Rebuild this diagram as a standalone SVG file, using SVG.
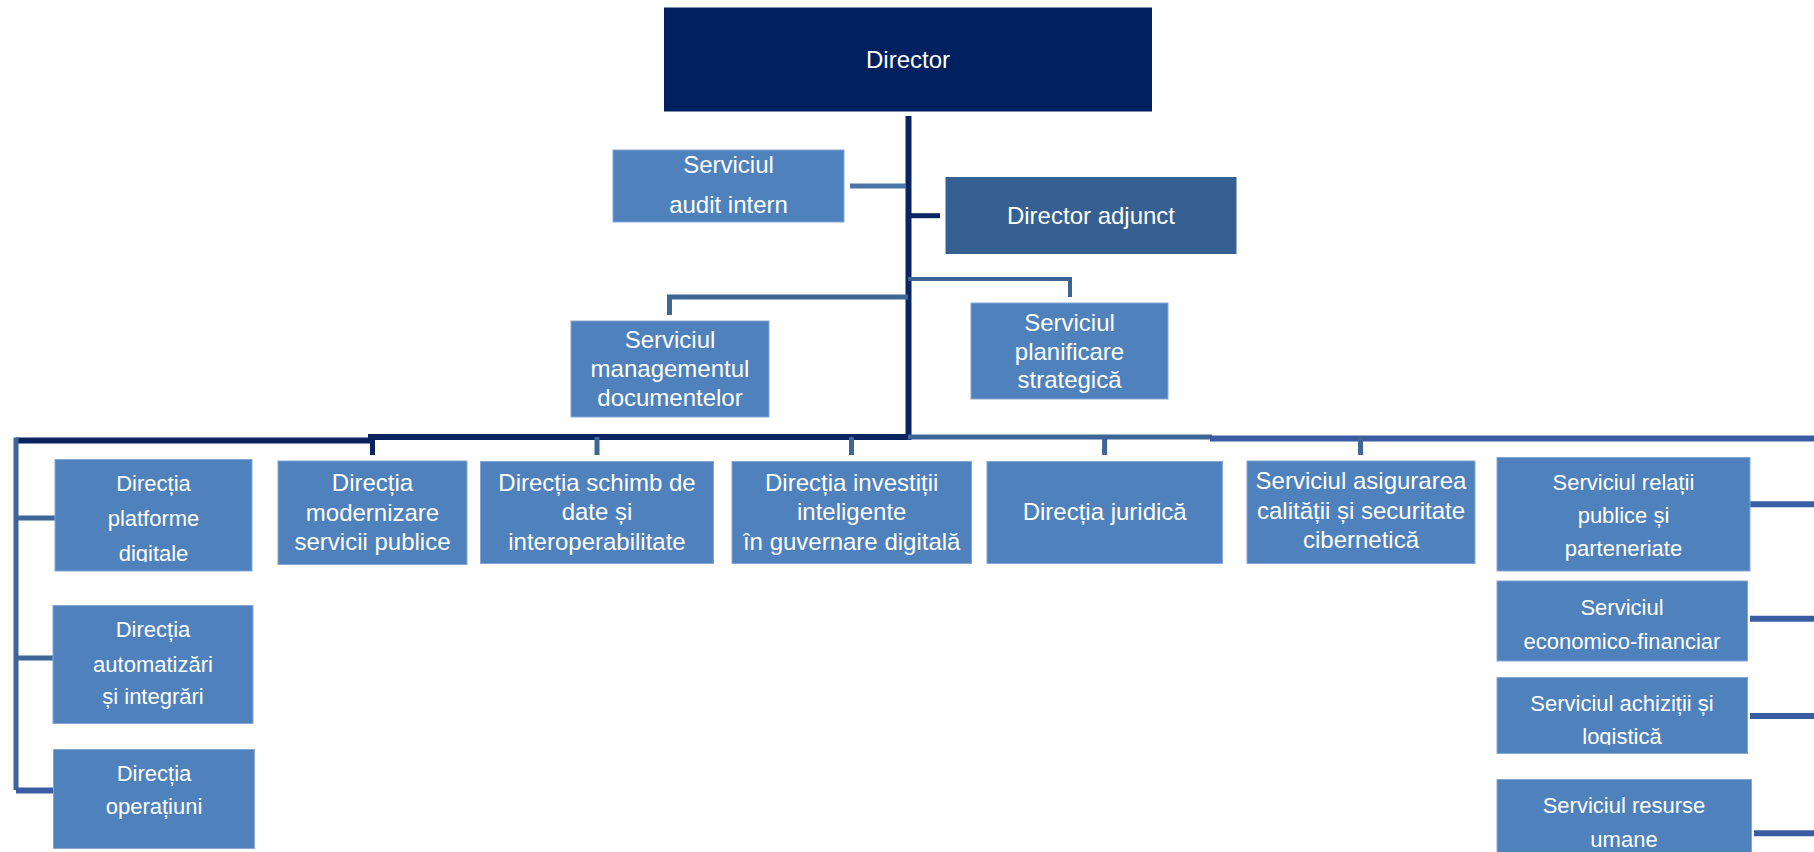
<svg xmlns="http://www.w3.org/2000/svg" width="1814" height="852" viewBox="0 0 1814 852">
<style>
.box{fill:#4f81bd;stroke:#86a6d6;stroke-width:1}
.t{font-family:"Liberation Sans",Arial,sans-serif;fill:#ffffff;text-anchor:middle}
.f24{font-size:24px}
.f22{font-size:22px}
.cn path{fill:none}
.navy{stroke:#0a2462;stroke-width:6}
.navy5{stroke:#0a2462;stroke-width:5}
.mid{stroke:#3d6596;stroke-width:5}
.mid4{stroke:#3b6394;stroke-width:4}
.aud{stroke:#4a74a6;stroke-width:5}
.blue{stroke:#3a5ca2;stroke-width:6}
</style>
<defs>
<clipPath id="clipDig"><rect x="55" y="459" width="197" height="103"/></clipPath>
<clipPath id="clipLog"><rect x="1497" y="677" width="251" height="68"/></clipPath>
</defs>
<rect width="1814" height="852" fill="#ffffff"/>
<g id="connectors" class="cn">
<path class="navy" d="M908.5 116 V440"/>
<path class="aud" d="M850 186 H906"/>
<path class="navy5" d="M911 215.7 H940"/>
<path class="mid4" d="M908 279 H1070 V297"/>
<path class="mid" d="M908 297 H669.5 V315"/>
<path class="navy" d="M16 440.5 H370"/>
<path class="navy" d="M368 437 H911"/>
<path class="navy5" d="M372.5 437 V455"/>
<path class="mid" d="M908 437 H1212"/>
<path class="blue" d="M1210 438.5 H1814"/>
<path class="mid" d="M597 437 V455"/>
<path class="mid" d="M851.5 437 V455"/>
<path class="mid" d="M1104.6 437 V455"/>
<path class="mid" d="M1360.6 437 V455"/>
<path class="mid" d="M16 437.5 V790"/>
<path class="mid" d="M16 518 H58"/>
<path class="mid" d="M16 658 H58"/>
<path class="blue" d="M16 790.5 H58"/>
<path class="blue" d="M1750 504.3 H1814"/>
<path class="blue" d="M1750 618.7 H1814"/>
<path class="blue" d="M1750 716 H1814"/>
<path class="blue" d="M1754 833.3 H1814"/>
</g>
<g id="director">
<rect x="664" y="7.5" width="488" height="104" fill="#002060"/>
<text class="t f24" x="908" y="68">Director</text>
</g>
<g id="audit">
<rect class="box" x="613" y="150" width="231" height="72"/>
<text class="t f24" x="728.5" y="173">Serviciul</text>
<text class="t f24" x="728.5" y="213">audit intern</text>
</g>
<g id="adjunct">
<rect x="945.5" y="177" width="291" height="77" fill="#376092"/>
<text class="t f24" x="1091" y="224">Director adjunct</text>
</g>
<g id="managementul">
<rect class="box" x="571" y="321" width="198" height="96"/>
<text class="t f24" x="670" y="348">Serviciul</text>
<text class="t f24" x="670" y="377">managementul</text>
<text class="t f24" x="670" y="406">documentelor</text>
</g>
<g id="planificare">
<rect class="box" x="971" y="303" width="197" height="96"/>
<text class="t f24" x="1069.5" y="331">Serviciul</text>
<text class="t f24" x="1069.5" y="360">planificare</text>
<text class="t f24" x="1069.5" y="388">strategică</text>
</g>
<g id="platforme">
<rect class="box" x="55" y="459.5" width="197" height="111.5"/>
<g clip-path="url(#clipDig)">
<text class="t f22" x="153.5" y="491">Direcția</text>
<text class="t f22" x="153.5" y="526">platforme</text>
<text class="t f22" x="153.5" y="561">digitale</text>
</g>
</g>
<g id="automatizari">
<rect class="box" x="53" y="605.5" width="200" height="118"/>
<text class="t f22" x="153" y="637">Direcția</text>
<text class="t f22" x="153" y="671.5">automatizări</text>
<text class="t f22" x="153" y="704">și integrări</text>
</g>
<g id="operatiuni">
<rect class="box" x="53.5" y="749.5" width="201" height="99"/>
<text class="t f22" x="154" y="781">Direcția</text>
<text class="t f22" x="154" y="814">operațiuni</text>
</g>
<g id="modernizare">
<rect class="box" x="278" y="461" width="189" height="103.5"/>
<text class="t f24" x="372.5" y="491">Direcția</text>
<text class="t f24" x="372.5" y="521">modernizare</text>
<text class="t f24" x="372.5" y="550">servicii publice</text>
</g>
<g id="schimb">
<rect class="box" x="480.5" y="461.5" width="233" height="102"/>
<text class="t f24" x="597" y="491">Direcția schimb de</text>
<text class="t f24" x="597" y="520">date și</text>
<text class="t f24" x="597" y="550">interoperabilitate</text>
</g>
<g id="investitii">
<rect class="box" x="732" y="461.5" width="239.5" height="102"/>
<text class="t f24" x="851.7" y="491">Direcția investiții</text>
<text class="t f24" x="851.7" y="520">inteligente</text>
<text class="t f24" x="851.7" y="550">în guvernare digitală</text>
</g>
<g id="juridica">
<rect class="box" x="987" y="461.5" width="235.5" height="102"/>
<text class="t f24" x="1104.7" y="520">Direcția juridică</text>
</g>
<g id="asigurarea">
<rect class="box" x="1247" y="461" width="228" height="102.5"/>
<text class="t f24" x="1361" y="489">Serviciul asigurarea</text>
<text class="t f24" x="1361" y="518.5">calității și securitate</text>
<text class="t f24" x="1361" y="548">cibernetică</text>
</g>
<g id="relatii">
<rect class="box" x="1497" y="457.5" width="253" height="113.5"/>
<text class="t f22" x="1623.5" y="490">Serviciul relații</text>
<text class="t f22" x="1623.5" y="523">publice și</text>
<text class="t f22" x="1623.5" y="556">parteneriate</text>
</g>
<g id="economico">
<rect class="box" x="1497" y="581" width="250.5" height="80"/>
<text class="t f22" x="1622" y="615">Serviciul</text>
<text class="t f22" x="1622" y="649">economico-financiar</text>
</g>
<g id="achizitii">
<rect class="box" x="1497" y="677.5" width="250.5" height="76"/>
<g clip-path="url(#clipLog)">
<text class="t f22" x="1622" y="711">Serviciul achiziții și</text>
<text class="t f22" x="1622" y="744">logistică</text>
</g>
</g>
<g id="resurse">
<rect class="box" x="1497" y="779.5" width="254.5" height="80"/>
<text class="t f22" x="1624" y="813">Serviciul resurse</text>
<text class="t f22" x="1624" y="847">umane</text>
</g>
</svg>
